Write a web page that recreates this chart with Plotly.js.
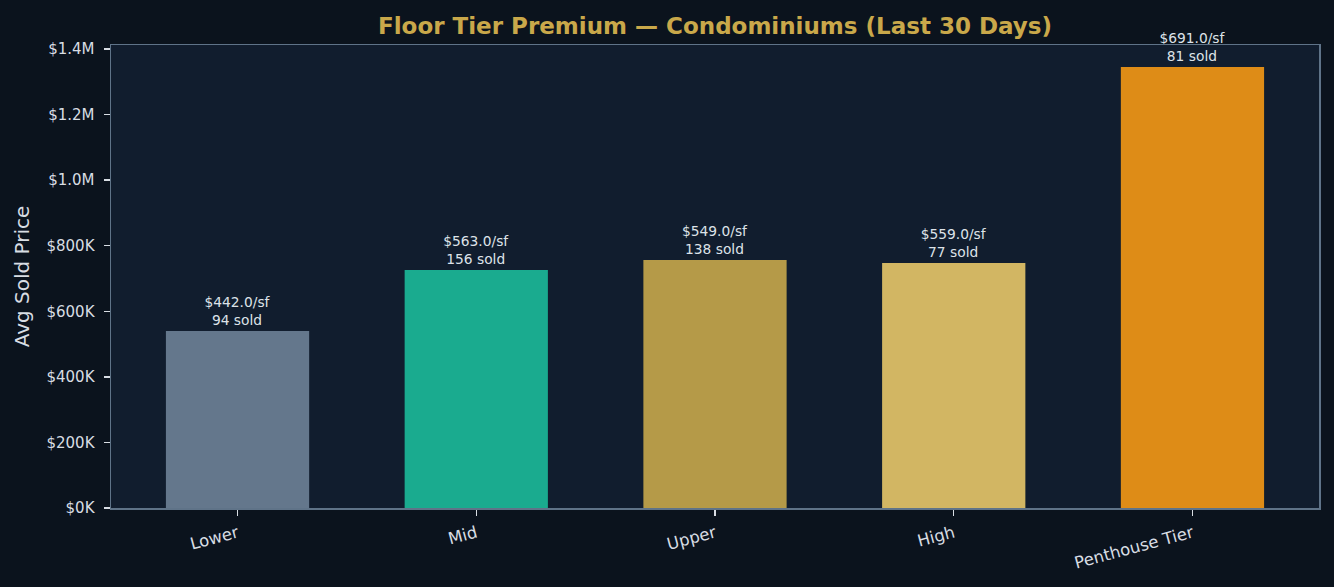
<!DOCTYPE html>
<html>
<head>
<meta charset="utf-8">
<script src="https://cdn.plot.ly/plotly-3.0.1.min.js"></script>
<style>
  html, body { margin: 0; padding: 0; background: #0b131d; }
  #chart { width: 1334px; height: 587px; }
</style>
</head>
<body>
<div id="chart"></div>
<script>
// Floor tiers and their figures
const tiers = ["Lower", "Mid", "Upper", "High", "Penthouse Tier"];
const avgPrice = [540000, 726000, 756000, 747000, 1345000];
const pricePerSf = [442.0, 563.0, 549.0, 559.0, 691.0];
const soldCount = [94, 156, 138, 77, 81];
const tierColors = ["#64778c", "#1aab8f", "#b59a48", "#d2b663", "#de8c17"];

const yTickVals = [0, 200000, 400000, 600000, 800000, 1000000, 1200000, 1400000];
const yTickText = ["$0K", "$200K", "$400K", "$600K", "$800K", "$1.0M", "$1.2M", "$1.4M"];

const barLabels = tiers.map((_, i) => `$${pricePerSf[i].toFixed(1)}/sf<br>${soldCount[i]} sold`);

const fontFamily = "DejaVu Sans, sans-serif";

const trace = {
    type: "bar",
    x: tiers,
    y: avgPrice,
    width: 0.6,
    marker: { color: tierColors, line: { width: 0 } },
    text: barLabels,
    textposition: "outside",
    textfont: { family: fontFamily, size: 13.8, color: "#dde2e8" },
    cliponaxis: false,
    hoverinfo: "skip"
};

const layout = {
    width: 1334,
    height: 587,
    paper_bgcolor: "#0b131d",
    plot_bgcolor: "#111d2e",
    margin: { l: 111, r: 15, t: 45, b: 79 },
    showlegend: false,
    title: {
        text: "Floor Tier Premium — Condominiums (Last 30 Days)",
        font: { family: fontFamily, size: 23, color: "#c9a84a", weight: "bold" },
        x: 0.536,
        xanchor: "center",
        y: 0.955,
        yanchor: "middle"
    },
    xaxis: {
        range: [-0.53, 4.53],
        tickangle: -15,
        ticks: "outside",
        ticklen: 6,
        tickwidth: 1.5,
        tickcolor: "#d8dde3",
        tickfont: { family: fontFamily, size: 16.5, color: "#d8dde3" },
        ticklabelstandoff: 2,
        showline: true,
        linecolor: "#5f7388",
        linewidth: 1.5,
        mirror: true,
        showgrid: false,
        zeroline: false,
        fixedrange: true
    },
    yaxis: {
        range: [0, 1412000],
        tickvals: yTickVals,
        ticktext: yTickText,
        ticks: "outside",
        ticklen: 6,
        tickwidth: 1.5,
        tickcolor: "#d8dde3",
        tickfont: { family: fontFamily, size: 15, color: "#d8dde3" },
        ticklabelstandoff: 6,
        title: {
            text: "Avg Sold Price",
            font: { family: fontFamily, size: 20, color: "#d8dde3" },
            standoff: 11
        },
        showline: true,
        linecolor: "#5f7388",
        linewidth: 1.5,
        mirror: true,
        showgrid: false,
        zeroline: false,
        fixedrange: true
    }
};

Plotly.newPlot("chart", [trace], layout, { displayModeBar: false, staticPlot: true });
</script>
</body>
</html>
